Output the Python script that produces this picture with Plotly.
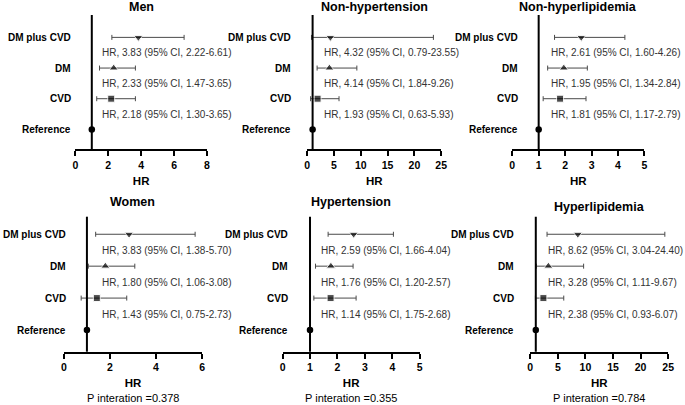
import plotly.graph_objects as go

W, H = 685, 405
FONT = "Liberation Sans, Arial, sans-serif"

panels = ["Men", "Non-hypertension", "Non-hyperlipidemia", "Women", "Hypertension", "Hyperlipidemia"]
categories = ["Reference", "CVD", "DM", "DM plus CVD"]
symbols = ["circle", "square", "triangle-up", "triangle-down"]

# plotted values for [CVD, DM, DM plus CVD]
men_hr = [2.18, 2.33, 3.83]; men_lo = [1.30, 1.47, 2.22]; men_hi = [3.65, 3.65, 6.61]
nonht_hr = [1.93, 4.14, 4.32]; nonht_lo = [0.63, 1.84, 0.79]; nonht_hi = [5.93, 9.26, 23.55]
nonhl_hr = [1.81, 1.95, 2.61]; nonhl_lo = [1.17, 1.34, 1.60]; nonhl_hi = [2.79, 2.84, 4.26]
women_hr = [1.43, 1.80, 2.83]; women_lo = [0.75, 1.06, 1.38]; women_hi = [2.73, 3.08, 5.70]
ht_hr = [1.75, 1.76, 2.59]; ht_lo = [1.14, 1.20, 1.66]; ht_hi = [2.68, 2.57, 4.04]
hl_hr = [2.38, 3.28, 8.62]; hl_lo = [0.93, 1.11, 3.04]; hl_hi = [6.07, 9.67, 24.40]
reference_hr = 1

men_txt = ["HR, 2.18 (95% CI, 1.30-3.65)", "HR, 2.33 (95% CI, 1.47-3.65)", "HR, 3.83 (95% CI, 2.22-6.61)"]
nonht_txt = ["HR, 1.93 (95% CI, 0.63-5.93)", "HR, 4.14 (95% CI, 1.84-9.26)", "HR, 4.32 (95% CI, 0.79-23.55)"]
nonhl_txt = ["HR, 1.81 (95% CI, 1.17-2.79)", "HR, 1.95 (95% CI, 1.34-2.84)", "HR, 2.61 (95% CI, 1.60-4.26)"]
women_txt = ["HR, 1.43 (95% CI, 0.75-2.73)", "HR, 1.80 (95% CI, 1.06-3.08)", "HR, 3.83 (95% CI, 1.38-5.70)"]
ht_txt = ["HR, 1.14 (95% CI, 1.75-2.68)", "HR, 1.76 (95% CI, 1.20-2.57)", "HR, 2.59 (95% CI, 1.66-4.04)"]
hl_txt = ["HR, 2.38 (95% CI, 0.93-6.07)", "HR, 3.28 (95% CI, 1.11-9.67)", "HR, 8.62 (95% CI, 3.04-24.40)"]

x_max = [8, 25, 5, 6, 5, 25]
x_dtick = [2, 5, 1, 2, 1, 5]
p_interaction = ["", "", "", "P interation =0.378", "P interation =0.355", "P interation =0.784"]

data = [
    (men_hr, men_lo, men_hi, men_txt),
    (nonht_hr, nonht_lo, nonht_hi, nonht_txt),
    (nonhl_hr, nonhl_lo, nonhl_hi, nonhl_txt),
    (women_hr, women_lo, women_hi, women_txt),
    (ht_hr, ht_lo, ht_hi, ht_txt),
    (hl_hr, hl_lo, hl_hi, hl_txt),
]

# layout (pixels)
x_dom_px = [(73.3, 206.7), (308.3, 444), (516, 650), (61.7, 201.7), (283.3, 422.3), (534.3, 674)]
row_dom_px = [(15, 149), (216.7, 351.7)]
y_ranges = [(-0.64, 3.73), (-0.68, 3.55)]
label_end_px = [71, 294.3, 524, 65.7, 290.7, 520]
text_left_px = [98, 323, 553, 98, 320.7, 550.7]
title_y_px = [7.5, 7.5, 6.5, 202.3, 201.5, 206.5]
p_y_px = 398.3

fig = go.Figure()
ann = []
shapes = []
ypos = [0, 1, 2, 3]

for i, name in enumerate(panels):
    k = i + 1
    xs = "x" if k == 1 else f"x{k}"
    ys = "y" if k == 1 else f"y{k}"
    hr, lo, hi, txt = data[i]
    row = 0 if i < 3 else 1

    fig.add_trace(go.Scatter(
        x=hr, y=ypos[1:], mode="markers", xaxis=xs, yaxis=ys,
        marker=dict(symbol=symbols[1:], size=[7, 8, 8], color="black"),
        error_x=dict(type="data", symmetric=False,
                     array=[h - m for h, m in zip(hi, hr)],
                     arrayminus=[m - l for m, l in zip(hr, lo)],
                     color="#4a4a4a", thickness=1, width=2.5),
        showlegend=False, hoverinfo="skip"))
    fig.add_trace(go.Scatter(
        x=[reference_hr], y=[ypos[0]], mode="markers", xaxis=xs, yaxis=ys,
        marker=dict(symbol=symbols[0], size=6.5, color="black"),
        showlegend=False, hoverinfo="skip"))

    x0, x1 = x_dom_px[i]
    t, b = row_dom_px[row]
    fig.update_layout({
        f"xaxis{'' if k == 1 else k}": dict(
            domain=[x0 / W, x1 / W], range=[0, x_max[i]], dtick=x_dtick[i], tick0=0,
            anchor=ys, showline=True, linecolor="black", linewidth=2,
            ticks="outside", ticklen=5, tickwidth=2, tickcolor="black",
            tickfont=dict(family=FONT, size=10.5, color="black", weight="bold"),
            showgrid=False, zeroline=False,
            title=dict(text="HR", standoff=7,
                       font=dict(family=FONT, size=11.5, color="black", weight="bold"))),
        f"yaxis{'' if k == 1 else k}": dict(
            domain=[1 - b / H, 1 - t / H], range=list(y_ranges[row]), anchor=xs,
            showticklabels=False, showgrid=False, zeroline=False, showline=False, ticks=""),
    })

    shapes.append(dict(type="line", xref=xs, yref=f"{ys} domain", x0=1, x1=1, y0=0, y1=1,
                       line=dict(color="black", width=2)))

    for c, yv in zip(categories, ypos):
        ann.append(dict(text=c, xref="paper", x=label_end_px[i] / W, xanchor="right",
                        yref=ys, y=yv, yanchor="middle", showarrow=False,
                        font=dict(family=FONT, size=10, color="black", weight="bold")))
    for s, yv in zip(txt, [0.5, 1.5, 2.5]):
        ann.append(dict(text=s, xref="paper", x=text_left_px[i] / W, xanchor="left",
                        yref=ys, y=yv, yanchor="middle", showarrow=False,
                        font=dict(family=FONT, size=10, color="#333333")))
    ann.append(dict(text=name, xref=f"{xs} domain", x=0.5, xanchor="center",
                    yref="paper", y=1 - title_y_px[i] / H, yanchor="middle", showarrow=False,
                    font=dict(family=FONT, size=12.5, color="black", weight="bold")))
    if p_interaction[i]:
        ann.append(dict(text=p_interaction[i], xref=f"{xs} domain", x=0.5, xanchor="center",
                        yref="paper", y=1 - p_y_px / H, yanchor="middle", showarrow=False,
                        font=dict(family=FONT, size=11, color="black")))

fig.update_layout(width=W, height=H, margin=dict(l=0, r=0, t=0, b=0),
                  paper_bgcolor="white", plot_bgcolor="white",
                  annotations=ann, shapes=shapes, showlegend=False)

fig.write_html("out.html", config={"displayModeBar": False},
               post_script="document.body.style.margin='0';document.body.style.overflow='hidden';")
